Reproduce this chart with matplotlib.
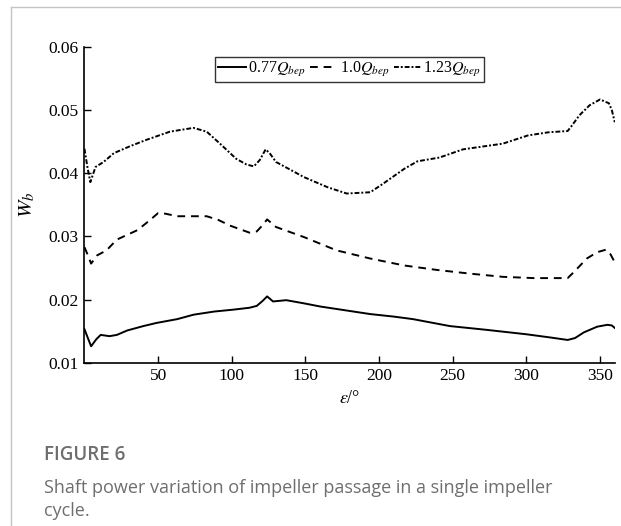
import matplotlib
matplotlib.use("Agg")
import matplotlib.pyplot as plt
from matplotlib.lines import Line2D

plt.rcParams['font.family'] = ['Liberation Serif', 'DejaVu Serif']
plt.rcParams['mathtext.fontset'] = 'stix'

# angle in degrees
ang_077 = [0, 4.5, 8, 11, 17, 22, 29, 40, 49, 63, 74, 88, 101, 112, 117, 121, 124, 128,
           137, 149, 160, 177, 194, 210, 223, 248, 273, 300, 316, 328, 333, 339, 348,
           355, 358, 360]
wb_077 = [0.0153, 0.0126, 0.0137, 0.0144, 0.0142, 0.0144, 0.0151, 0.0158, 0.0163, 0.0169,
          0.0176, 0.0181, 0.0184, 0.0187, 0.0190, 0.0198, 0.0205, 0.0197, 0.0199, 0.0194,
          0.0189, 0.0183, 0.0177, 0.0173, 0.0169, 0.0158, 0.0152, 0.0145, 0.0140, 0.0136,
          0.0139, 0.0148, 0.0157, 0.0160, 0.0159, 0.0155]

ang_100 = [0, 2, 4.5, 8.6, 15, 22, 36, 44, 50, 55, 63, 83, 91, 99, 112, 117, 121, 124,
           130, 149, 171, 194, 217, 239, 262, 284, 305, 328, 332, 341, 348, 354, 357, 360]
wb_100 = [0.0283, 0.0272, 0.0257, 0.0270, 0.0278, 0.0295, 0.0310, 0.0325, 0.0337, 0.0336,
          0.0332, 0.0332, 0.0326, 0.0317, 0.0306, 0.0308, 0.0318, 0.0327, 0.0315, 0.0299,
          0.0278, 0.0265, 0.0254, 0.0247, 0.0241, 0.0236, 0.0234, 0.0234, 0.0243, 0.0265,
          0.0275, 0.0279, 0.0272, 0.0259]

ang_123 = [0, 2, 4, 7.5, 13, 20, 31, 42, 58, 74, 83, 92, 103, 110, 115, 119, 123, 126,
           130, 149, 165, 178, 194, 203, 217, 226, 241, 257, 269, 284, 301, 315, 328,
           331, 336, 343, 350, 356, 358, 360]
wb_123 = [0.0439, 0.0410, 0.0386, 0.0410, 0.0418, 0.0432, 0.0443, 0.0453, 0.0466, 0.0472,
          0.0466, 0.0447, 0.0423, 0.0414, 0.0411, 0.0421, 0.0438, 0.0431, 0.0418, 0.0394,
          0.0378, 0.0368, 0.0370, 0.0384, 0.0407, 0.0419, 0.0425, 0.0438, 0.0442, 0.0447,
          0.0460, 0.0465, 0.0467, 0.0476, 0.0492, 0.0508, 0.0517, 0.0511, 0.0500, 0.0481]

labels = [r'0.77$Q_{bep}$', r'1.0$Q_{bep}$', r'1.23$Q_{bep}$']
xticks = [50, 100, 150, 200, 250, 300, 350]
yticks = [0.01, 0.02, 0.03, 0.04, 0.05, 0.06]

fig = plt.figure(figsize=(6.21, 5.26), dpi=100)

# card border (top and left edges only)
fig.add_artist(Line2D([11 / 621, 11 / 621], [0, 1 - 7 / 526], color='#c4c4c4', lw=1.0))
fig.add_artist(Line2D([11 / 621, 1], [1 - 7 / 526, 1 - 7 / 526], color='#c4c4c4', lw=1.0))

ax = fig.add_axes([0.136, 0.3105, 0.854, 0.600])
ax.plot(ang_077, wb_077, color='black', lw=1.4, label=labels[0])
ax.plot(ang_100, wb_100, color='black', lw=1.4, linestyle=(0, (4, 3)), label=labels[1])
ax.plot(ang_123, wb_123, color='black', lw=1.4, linestyle=(0, (2.5, 1, 1, 1)), label=labels[2])

ax.set_xlim(0, 360)
ax.set_ylim(0.01, 0.06)
ax.set_xticks(xticks)
ax.set_yticks(yticks)
ax.set_yticklabels([f'{v:.2f}' for v in yticks])
ax.tick_params(direction='in', length=5, width=1, labelsize=12.5, pad=4)
for s in ['top', 'right']:
    ax.spines[s].set_visible(False)
for s in ['left', 'bottom']:
    ax.spines[s].set_linewidth(1.2)

ax.set_xlabel(r'$\varepsilon$/°', fontsize=13, labelpad=4)
ax.set_ylabel(r'$W_b$', fontsize=15, labelpad=8)

leg = ax.legend(loc='center', bbox_to_anchor=(0.5, 0.929), ncol=3, fontsize=11.5,
                frameon=True, fancybox=False, edgecolor='black', handlelength=1.7,
                handletextpad=0.15, columnspacing=0.3, borderpad=0.2, borderaxespad=0)
leg.get_frame().set_linewidth(1.0)

fig.text(44 / 621, 1 - 455 / 526, 'FIGURE 6', fontsize=13.5, color='#6e6e6e',
         family=['Open Sans', 'DejaVu Sans'], fontweight='semibold', va='center')
fig.text(44 / 621, 1 - 488 / 526, 'Shaft power variation of impeller passage in a single impeller',
         fontsize=13, color='#6e6e6e', family=['Open Sans', 'DejaVu Sans'], va='center')
fig.text(44 / 621, 1 - 511 / 526, 'cycle.', fontsize=13, color='#6e6e6e',
         family=['Open Sans', 'DejaVu Sans'], va='center')

fig.savefig('out.png', dpi=100)
